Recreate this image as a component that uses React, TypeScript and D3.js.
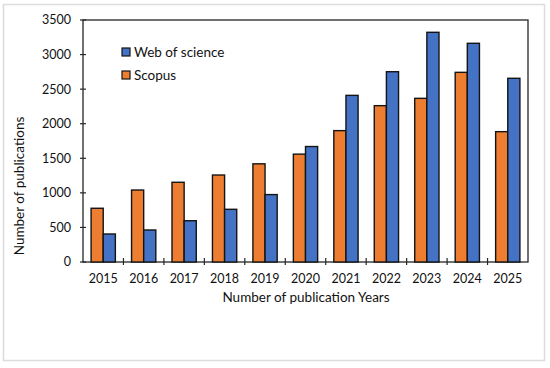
import React from 'react'
import * as d3 from 'd3'

const years = ['2015', '2016', '2017', '2018', '2019', '2020', '2021', '2022', '2023', '2024', '2025']
const scopus = [777, 1041, 1153, 1258, 1420, 1560, 1900, 2261, 2367, 2743, 1885]
const wos = [405, 463, 597, 762, 975, 1670, 2410, 2752, 3322, 3163, 2657]
const yTicks = [0, 500, 1000, 1500, 2000, 2500, 3000, 3500]

const W = 550
const H = 368
const margin = { top: 20, right: 22, bottom: 106, left: 83 }
const FONT = 'Lato, "Open Sans", sans-serif'

export default function App() {
  const innerW = W - margin.left - margin.right
  const innerH = H - margin.top - margin.bottom

  // x: one band per year, then two sub-bands for the series
  const x = d3.scaleBand().domain(years).range([0, innerW]).paddingInner(0.4).paddingOuter(0.2)
  const sub = d3.scaleBand().domain(['scopus', 'wos']).range([0, x.bandwidth()])
  const y = d3.scaleLinear().domain([0, 3500]).range([innerH, 0])

  const step = x.step()
  const series = [
    { key: 'scopus', values: scopus, color: '#ED7D31' },
    { key: 'wos', values: wos, color: '#4472C4' },
  ]

  return (
    <svg width={W} height={H} style={{ position: 'absolute', left: 0, top: 0 }}>
      <rect x={3.5} y={4.5} width={541} height={356} fill="white" stroke="#dcdcdc" strokeWidth={1.5} />
      <g transform={`translate(${margin.left},${margin.top})`}>
        {/* frame */}
        <rect x={0} y={0} width={innerW} height={innerH} fill="none" stroke="#262626" strokeWidth={1.3} />

        {/* y ticks and labels */}
        {yTicks.map((t) => (
          <g key={t} transform={`translate(0,${y(t)})`}>
            <line x1={-3} x2={3} stroke="#262626" strokeWidth={1.2} />
            <text x={-12} dy="0.35em" textAnchor="end" fontFamily={FONT} fontSize={12.5} fill="#111">
              {t}
            </text>
          </g>
        ))}

        {/* x ticks between categories */}
        {d3.range(1, years.length).map((i) => (
          <line key={i} x1={i * step} x2={i * step} y1={innerH - 4} y2={innerH + 3} stroke="#262626" strokeWidth={1.2} />
        ))}
        {years.map((yr) => (
          <text key={yr} x={(x(yr) as number) + x.bandwidth() / 2} y={innerH + 21} textAnchor="middle" fontFamily={FONT} fontSize={12.5} fill="#111">
            {yr}
          </text>
        ))}

        {/* bars */}
        {series.map((s) =>
          years.map((yr, i) => (
            <rect
              key={s.key + yr}
              x={(x(yr) as number) + (sub(s.key) as number)}
              y={y(s.values[i])}
              width={sub.bandwidth()}
              height={innerH - y(s.values[i])}
              fill={s.color}
              stroke="#141414"
              strokeWidth={1.4}
            />
          ))
        )}

        {/* legend */}
        {[
          { label: 'Web of science', color: '#4472C4' },
          { label: 'Scopus', color: '#ED7D31' },
        ].map((l, i) => (
          <g key={l.label} transform={`translate(39,${28 + i * 23})`}>
            <rect x={0} y={0} width={8} height={8} fill={l.color} stroke="#141414" strokeWidth={1.2} />
            <text x={12} y={8.5} fontFamily={FONT} fontSize={13.5} fill="#111">
              {l.label}
            </text>
          </g>
        ))}
      </g>

      <text transform="translate(24,186) rotate(-90)" textAnchor="middle" fontFamily={FONT} fontSize={13.5} fill="#111">
        Number of publications
      </text>
      <text x={306} y={302} textAnchor="middle" fontFamily={FONT} fontSize={13.5} fill="#111">
        Number of publication Years
      </text>
    </svg>
  )
}
